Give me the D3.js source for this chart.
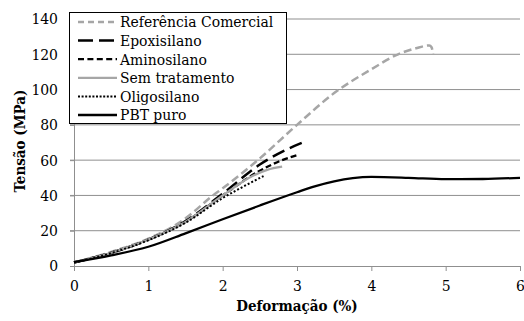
<!DOCTYPE html>
<html>
<head>
<meta charset="utf-8">
<script src="https://cdn.jsdelivr.net/npm/d3@7"></script>
<style>
  body { margin: 0; background: #fff; }
  svg text { font-family: "DejaVu Serif Condensed", "DejaVu Serif", serif; }
</style>
</head>
<body>
<div id="chart"></div>
<script>
// tick labels
const xTicks = [0, 1, 2, 3, 4, 5, 6];
const yTicks = [0, 20, 40, 60, 80, 100, 120, 140];

// series names (legend order)
const seriesNames = ["Referência Comercial", "Epoxisilano", "Aminosilano", "Sem tratamento", "Oligosilano", "PBT puro"];

// [deformação %, tensão MPa]
const refComercial = [[0, 2], [0.5, 8], [1, 15.5], [1.5, 27], [1.87, 40], [2, 44], [2.5, 61], [3, 80],
  [3.5, 98], [4, 111.5], [4.36, 120], [4.6, 123.4], [4.78, 125], [4.81, 124], [4.83, 120]];
const epoxisilano = [[0, 2], [0.5, 7.5], [1, 15], [1.5, 25.5], [2, 41], [2.5, 57.5], [2.86, 66], [3.1, 70.4]];
const aminosilano = [[0, 2], [0.5, 7.5], [1, 15], [1.5, 25], [2, 40], [2.5, 54], [2.8, 60], [3.02, 63]];
const semTratamento = [[0, 2], [0.5, 7.5], [1, 15], [1.5, 25], [2, 40], [2.4, 51], [2.6, 54.5], [2.8, 56.3]];
const oligosilano = [[0, 2], [0.5, 7.3], [1, 14.6], [1.5, 24.5], [2, 38.5], [2.3, 45.5], [2.55, 51]];
const pbtPuro = [[0, 2.2], [0.5, 6], [1, 10.9], [1.5, 18.5], [2, 26.5], [2.5, 34.3], [3, 41.8], [3.25, 45.3],
  [3.5, 48], [3.75, 49.8], [4, 50.5], [4.5, 50], [5, 49.2], [5.5, 49.3], [6, 50]];

const width = 524, height = 321;
const svg = d3.select("#chart").append("svg")
  .attr("width", width)
  .attr("height", height);

const x = d3.scaleLinear().domain([0, 6]).range([74, 520]);
const y = d3.scaleLinear().domain([0, 140]).range([266, 19]);

// gridlines
svg.append("g")
  .selectAll("line")
  .data(yTicks.filter(d => d > 0))
  .enter()
  .append("line")
  .attr("x1", 70).attr("x2", 520)
  .attr("y1", d => y(d)).attr("y2", d => y(d))
  .attr("stroke", "#8f8f8f")
  .attr("stroke-width", 1);

// y axis
const yAxis = svg.append("g")
  .attr("transform", "translate(74,0)")
  .call(d3.axisLeft(y).tickValues(yTicks).tickFormat(d3.format("d")).tickSize(4).tickPadding(12));
yAxis.attr("font-size", 15.5);
yAxis.select(".domain").attr("stroke", "#8f8f8f");
yAxis.selectAll(".tick line").attr("stroke", "#8f8f8f");
yAxis.selectAll("text").attr("fill", "#000");

// x axis
const xAxis = svg.append("g")
  .attr("transform", "translate(0,266)")
  .call(d3.axisBottom(x).tickValues(xTicks).tickFormat(d3.format("d")).tickSize(5).tickPadding(9));
xAxis.attr("font-size", 15.5);
xAxis.select(".domain").attr("stroke", "#8f8f8f");
xAxis.selectAll(".tick line").attr("stroke", "#8f8f8f");
xAxis.selectAll("text").attr("fill", "#000");

// axis titles
svg.append("text")
  .attr("x", 297).attr("y", 311)
  .attr("text-anchor", "middle")
  .style("font-weight", "bold")
  .style("font-size", "15px")
  .text("Deformação (%)");

svg.append("text")
  .attr("transform", "translate(25,141) rotate(-90)")
  .attr("text-anchor", "middle")
  .style("font-weight", "bold")
  .style("font-size", "15px")
  .text("Tensão (MPa)");

// line styles
const styles = [
  { data: refComercial, color: "#a6a6a6", dash: "8,4", w: 2.5, legDash: "6,4" },
  { data: epoxisilano, color: "#000", dash: "13,6", w: 2.5, legDash: "15,6" },
  { data: aminosilano, color: "#000", dash: "6,3", w: 2.3, legDash: "6,3.4" },
  { data: semTratamento, color: "#a6a6a6", dash: null, w: 2.3, legDash: null },
  { data: oligosilano, color: "#000", dash: "2,2", w: 2, legDash: "2,1.6" },
  { data: pbtPuro, color: "#000", dash: null, w: 2.3, legDash: null }
];

const line = d3.line()
  .x(d => x(d[0]))
  .y(d => y(d[1]))
  .curve(d3.curveMonotoneX);

svg.append("g")
  .selectAll("path")
  .data(styles)
  .enter()
  .append("path")
  .attr("d", d => line(d.data))
  .attr("fill", "none")
  .attr("stroke", d => d.color)
  .attr("stroke-width", d => d.w)
  .attr("stroke-dasharray", d => d.dash);

// legend
const legend = svg.append("g");
legend.append("rect")
  .attr("x", 69.5).attr("y", 12.5)
  .attr("width", 217).attr("height", 111)
  .attr("fill", "#fff")
  .attr("stroke", "#000")
  .attr("stroke-width", 1);

const rows = legend.selectAll("g.row")
  .data(styles)
  .enter()
  .append("g")
  .attr("class", "row")
  .attr("transform", (d, i) => "translate(0," + (22 + i * 18.6) + ")");

rows.append("line")
  .attr("x1", 78).attr("x2", 117)
  .attr("stroke", d => d.color)
  .attr("stroke-width", d => d.w)
  .attr("stroke-dasharray", d => d.legDash);

rows.append("text")
  .attr("x", 120)
  .attr("dy", "0.35em")
  .style("font-size", "15.5px")
  .text((d, i) => seriesNames[i]);
</script>
</body>
</html>
